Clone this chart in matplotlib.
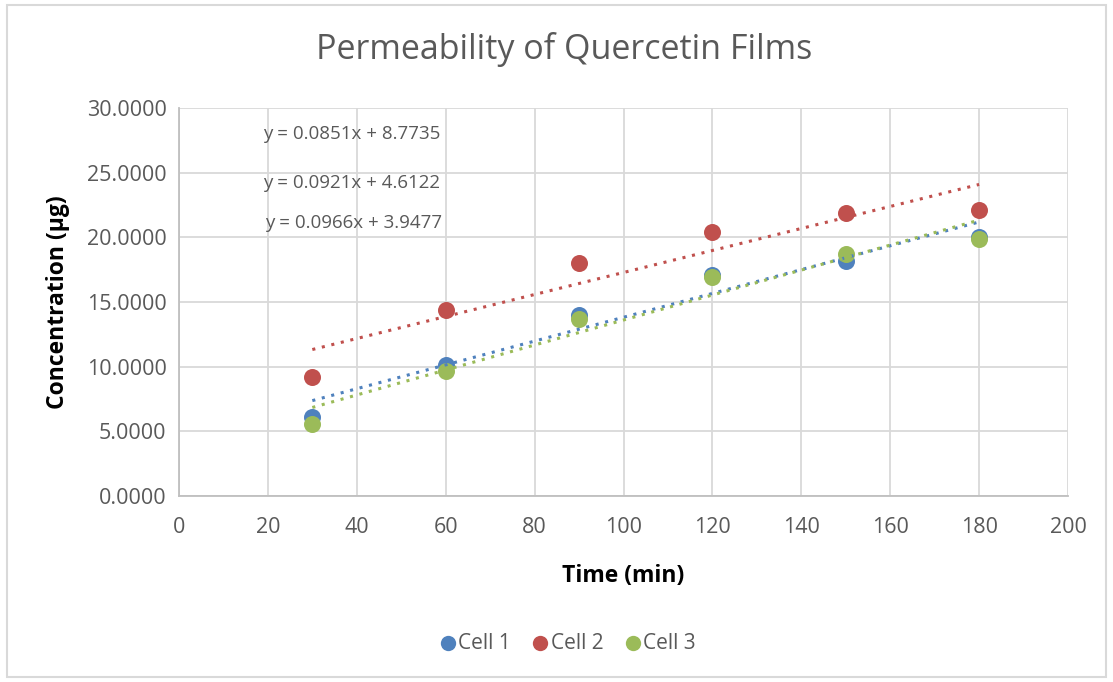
import matplotlib.pyplot as plt
from matplotlib.patches import Rectangle
import numpy as np

plt.rcParams['font.family'] = ['Open Sans', 'DejaVu Sans']

time_min = [30, 60, 90, 120, 150, 180]
cell1 = [6.1, 10.1, 14.0, 17.1, 18.2, 20.0]
cell2 = [9.2, 14.4, 18.0, 20.4, 21.9, 22.1]
cell3 = [5.6, 9.7, 13.7, 16.9, 18.7, 19.9]

series_names = ['Cell 1', 'Cell 2', 'Cell 3']
# trendline coefficients as printed on the chart (slope, intercept)
slopes = [0.0921, 0.0851, 0.0966]
intercepts = [4.6122, 8.7735, 3.9477]
equations = ['y = 0.0851x + 8.7735', 'y = 0.0921x + 4.6122', 'y = 0.0966x + 3.9477']

colors = ['#4F81BD', '#C0504D', '#9BBB59']
tick_grey = '#595959'

fig = plt.figure(figsize=(11.13, 6.82), dpi=100)
ax = fig.add_axes([0.1608, 0.2727, 0.7988, 0.5689])

fig.patches.append(Rectangle((0.006, 0.008), 0.988, 0.985, transform=fig.transFigure,
                             fill=False, edgecolor='#D9D9D9', linewidth=1.5))

for name, ys, c, m, b in zip(series_names, [cell1, cell2, cell3], colors, slopes, intercepts):
    ax.scatter(time_min, ys, s=150, color=c, label=name, zorder=3, linewidths=0)
    xs = np.array([time_min[0], time_min[-1]])
    ax.plot(xs, m * xs + b, linestyle=(0, (1, 2.2)), color=c, linewidth=2.2, zorder=4)

ax.set_xlim(0, 200)
ax.set_ylim(0, 30)
ax.set_xticks(range(0, 201, 20))
ax.set_yticks(range(0, 31, 5))
ax.set_yticklabels([f'{v:.4f}' for v in range(0, 31, 5)])
ax.grid(True, color='#D9D9D9', linewidth=1.3, zorder=0)
ax.set_axisbelow(True)
for side in ['top', 'right']:
    ax.spines[side].set_visible(False)
for side in ['left', 'bottom']:
    ax.spines[side].set_color('#BFBFBF')
    ax.spines[side].set_linewidth(1.3)
ax.tick_params(length=0, labelsize=15.5, labelcolor=tick_grey)
ax.tick_params(axis='y', pad=9)
ax.tick_params(axis='x', pad=15)

fig.text(0.507, 0.927, 'Permeability of Quercetin Films', fontsize=24.5, color=tick_grey,
         ha='center', va='center')
ax.set_xlabel('Time (min)', fontsize=16.5, fontweight='bold', labelpad=19)
ax.set_ylabel('Concentration (\u00b5g)', fontsize=16.5, fontweight='bold', labelpad=12)

eq_pos = [(0.094, 0.933), (0.094, 0.807), (0.097, 0.704)]
for txt, (px, py) in zip(equations, eq_pos):
    ax.text(px, py, txt, transform=ax.transAxes, fontsize=13.5, color=tick_grey,
            ha='left', va='center')

leg = fig.legend(loc='center', bbox_to_anchor=(0.51, 0.057), ncol=3, frameon=False,
                 fontsize=15, handletextpad=0.1, handlelength=0.8, columnspacing=1.0,
                 markerscale=0.9)
for t in leg.get_texts():
    t.set_color(tick_grey)

fig.savefig('out.png', dpi=100)
